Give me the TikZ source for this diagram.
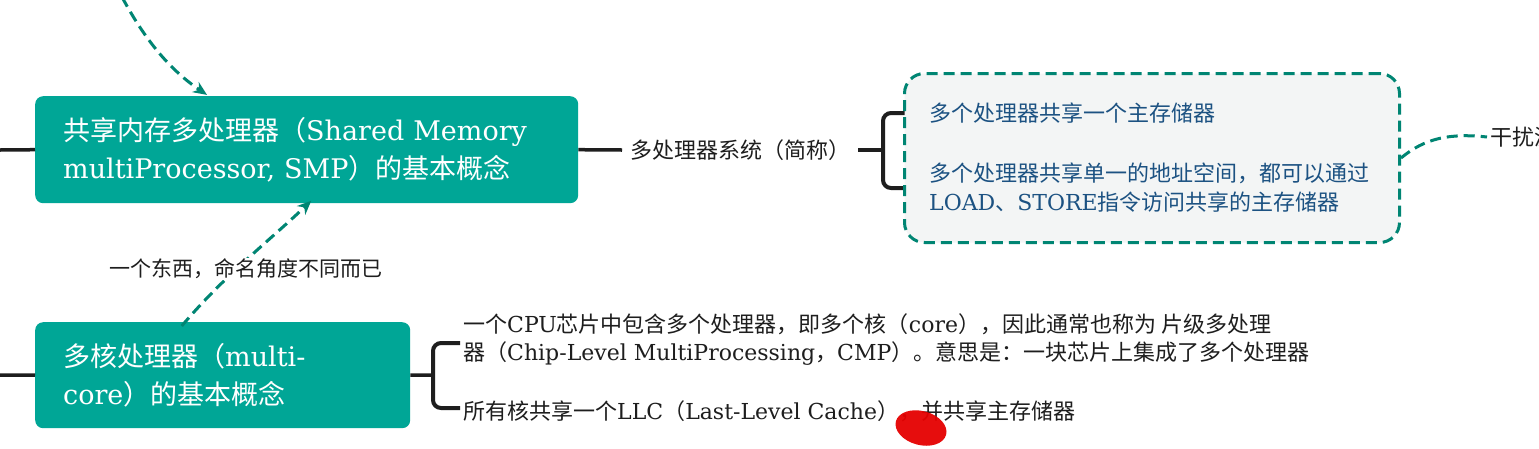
\documentclass[tikz,border=0pt]{standalone}
\usepackage{fontspec}
\setmainfont{Noto Sans CJK SC}
\newfontfamily\latf{DejaVu Serif}
\newcommand\lt[1]{{\latf #1}}
\usetikzlibrary{arrows.meta}
\definecolor{tealfill}{RGB}{0,166,150}
\definecolor{teald}{RGB}{0,133,115}
\definecolor{bluet}{RGB}{28,82,130}
\definecolor{boxbg}{RGB}{243,245,245}
\definecolor{txt}{RGB}{30,30,30}
\begin{document}
\begin{tikzpicture}[x=1pt,y=-1pt,
  mainbox/.style={fill=tealfill, rounded corners=8pt, text=white, align=left,
    anchor=north west, inner xsep=28pt, inner ysep=0pt,
    font=\fontsize{27}{38}\selectfont},
  conn/.style={line width=3.5pt, txt},
  bracepath/.style={line width=4pt, txt, rounded corners=8pt},
  side/.style={font=\fontsize{22}{28}\selectfont, text=txt, align=left, anchor=west, inner sep=0pt},
  bluetext/.style={font=\fontsize{22}{29}\selectfont, text=bluet, align=left, anchor=west, inner sep=0pt},
  dashconn/.style={teald, line width=3pt, dash pattern=on 11pt off 6pt},
  dasharrow/.style={dashconn, -{Stealth[length=14pt,width=12pt]}},
  grpbox/.style={draw=teald, fill=boxbg, line width=3pt, dash pattern=on 11pt off 6pt,
    rounded corners=20pt, anchor=north west, inner sep=0pt}
]
\useasboundingbox (0,0) rectangle (1539,448);
\fill[white] (0,0) rectangle (1539,448);

% main boxes
\node[mainbox, text width=487pt, minimum height=107pt] (smp) at (35,96)
  {共享内存多处理器（\lt{Shared Memory}\\\lt{multiProcessor, SMP}）的基本概念};
\node[mainbox, text width=319pt, minimum height=106pt] (mc) at (35,322)
  {多核处理器（\lt{multi-}\\\lt{core}）的基本概念};

% left stubs
\coordinate (l1) at (0,150);
\coordinate (l2) at (0,375);
\draw[conn] (l1) -- (smp.west);
\draw[conn] (l2) -- (mc.west);

% SMP branch
\node[side, inner xsep=8pt] (sys) at (622,150) {多处理器系统（简称）};
\draw[conn] (smp.east) -- (sys.west);
\coordinate (br1) at (883,150);
\draw[conn] (sys.east) -- (br1);
\draw[bracepath] (905,113) -- (883,113) -- (883,188) -- (905,188);

\node[grpbox, minimum width=495pt, minimum height=169pt] (grp) at (903,72) {};
\node[bluetext] (t1) at (929,113) {多个处理器共享一个主存储器};
\node[bluetext] (t2) at (929,187.5)
  {多个处理器共享单一的地址空间，都可以通过\\\lt{LOAD}、\lt{STORE}指令访问共享的主存储器};

% right dashed link
\node[side, inner xsep=3pt] (gr) at (1487,137) {干扰源};
\draw[dashconn] (grp.east) .. controls (1425,138) and (1450,133) .. (gr.west);

% top incoming arrow
\coordinate (tp) at (122,-3);
\draw[dasharrow, shorten >=2pt] (tp) .. controls (145,40) and (170,70) .. ([xshift=-98pt]smp.north);

% multi-core branch
\coordinate (br2) at (433,375);
\draw[conn] (mc.east) -- (br2);
\draw[bracepath] (460,343) -- (433,343) -- (433,408) -- (460,408);
\node[side] (b1) at (463,340)
  {一个\lt{CPU}芯片中包含多个处理器，即多个核（\lt{core}），因此通常也称为 片级多处理\\器（\lt{Chip-Level MultiProcessing}，\lt{CMP}）。意思是：一块芯片上集成了多个处理器};
\node[side] (b2) at (463,411)
  {所有核共享一个\lt{LLC}（\lt{Last-Level Cache}），并共享主存储器};

% link between boxes
\draw[dasharrow, shorten >=2pt] ([xshift=-41pt,yshift=-4pt]mc.north) .. controls (225,275) and (270,240) .. ([xshift=6pt,yshift=4pt]smp.south);
\node[font=\fontsize{21}{26}\selectfont, text=txt, fill=white, inner xsep=3pt, inner ysep=1pt] (lbl) at (246,269) {一个东西，命名角度不同而已};

% red pen mark
\fill[red!90!black, opacity=0.95, rotate around={-15:(921,428)}] (921,428) ellipse [x radius=26pt, y radius=17pt];
\end{tikzpicture}
\end{document}
